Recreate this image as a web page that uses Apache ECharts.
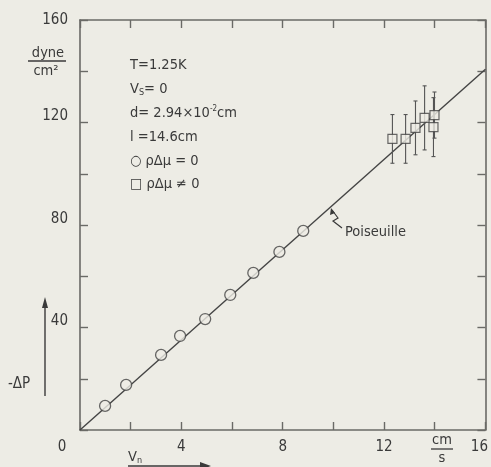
<!DOCTYPE html>
<html>
<head>
<meta charset="utf-8">
<script src="https://cdn.jsdelivr.net/npm/echarts@6/dist/echarts.min.js"></script>
<style>
  html, body { margin: 0; padding: 0; background: #edece5; }
  #chart { width: 491px; height: 467px; }
</style>
</head>
<body>
<div id="chart"></div>
<script>
// Pressure drop vs normal-fluid velocity
const circleV = [0.99, 1.82, 3.2, 3.95, 4.94, 5.93, 6.84, 7.87, 8.81];
const circleP = [9.4, 17.6, 29.3, 36.7, 43.3, 52.7, 61.3, 69.5, 77.7];

const squareV = [12.33, 12.85, 13.24, 13.6, 13.95, 13.99];
const squareP = [113.6, 113.6, 117.9, 121.8, 118.2, 122.9];
const squareErr = [9.5, 9.5, 10.5, 12.5, 11.5, 9];

const poiseuilleV = [0, 16];
const poiseuilleP = [0, 140.8];

const xTickLabels = { 0: '0', 4: '4', 8: '8', 12: '12', 16: '16' };
const yTickLabels = { 40: '40', 80: '80', 120: '120', 160: '160' };

const ink = '#3a3a3a';
const axisInk = '#6a6a66';
const fontFam = '"DejaVu Sans Condensed", "DejaVu Sans", sans-serif';

const chart = echarts.init(document.getElementById('chart'));

const axisCommon = {
  type: 'value',
  axisLine: { show: true, onZero: false, lineStyle: { color: axisInk, width: 1.6 } },
  axisTick: { show: true, inside: true, length: 8, lineStyle: { color: axisInk, width: 1.4 } },
  splitLine: { show: false }
};

chart.setOption({
  animation: false,
  backgroundColor: '#edece5',
  grid: { left: 80, right: 5, top: 20, bottom: 37 },
  xAxis: [
    Object.assign({}, axisCommon, {
      min: 0, max: 16, interval: 2, position: 'bottom',
      axisLabel: {
        show: true, color: ink, fontSize: 15, fontFamily: fontFam, margin: 10,
        formatter: function (v) {
          if (v === 0) return '{zero|0}';
          if (v === 16) return '{last|16}';
          return xTickLabels[v] || '';
        },
        rich: {
          zero: { padding: [0, 36, 0, 0], fontSize: 15, color: ink, fontFamily: fontFam },
          last: { padding: [0, 12, 0, 0], fontSize: 15, color: ink, fontFamily: fontFam }
        }
      }
    }),
    Object.assign({}, axisCommon, {
      min: 0, max: 16, interval: 2, position: 'top', axisLabel: { show: false }
    })
  ],
  yAxis: [
    Object.assign({}, axisCommon, {
      min: 0, max: 160, interval: 20, position: 'left',
      axisLabel: {
        show: true, color: ink, fontSize: 15, fontFamily: fontFam, margin: 12,
        formatter: function (v) {
          if (v === 160) return '{top|160}';
          return yTickLabels[v] ? '{t|' + yTickLabels[v] + '}' : '';
        },
        rich: {
          t: { padding: [0, 0, 12, 0], fontSize: 15, color: ink, fontFamily: fontFam },
          top: { padding: [0, 0, 0, 0], fontSize: 15, color: ink, fontFamily: fontFam }
        }
      }
    }),
    Object.assign({}, axisCommon, {
      min: 0, max: 160, interval: 20, position: 'right', axisLabel: { show: false }
    })
  ],
  series: [
    {
      name: 'Poiseuille',
      type: 'line',
      data: poiseuilleV.map((v, i) => [v, poiseuilleP[i]]),
      showSymbol: false,
      lineStyle: { color: '#444', width: 1.4 },
      z: 2
    },
    {
      name: 'errors',
      type: 'custom',
      data: squareV.map((v, i) => [v, squareP[i], squareErr[i]]),
      renderItem: function (params, api) {
        const x = api.value(0), y = api.value(1), e = api.value(2);
        const top = api.coord([x, y + e]);
        const bot = api.coord([x, y - e]);
        const cap = 2;
        const style = { stroke: '#555', lineWidth: 1.1 };
        return {
          type: 'group',
          children: [
            { type: 'line', shape: { x1: top[0], y1: top[1], x2: bot[0], y2: bot[1] }, style: style },
            { type: 'line', shape: { x1: top[0] - cap, y1: top[1], x2: top[0] + cap, y2: top[1] }, style: style },
            { type: 'line', shape: { x1: bot[0] - cap, y1: bot[1], x2: bot[0] + cap, y2: bot[1] }, style: style }
          ]
        };
      },
      z: 3
    },
    {
      name: 'ρΔμ = 0',
      type: 'scatter',
      data: circleV.map((v, i) => [v, circleP[i]]),
      symbol: 'circle',
      symbolSize: 11,
      itemStyle: { color: '#edece5', borderColor: '#444', borderWidth: 1.3 },
      z: 4
    },
    {
      name: 'ρΔμ ≠ 0',
      type: 'scatter',
      data: squareV.map((v, i) => [v, squareP[i]]),
      symbol: 'rect',
      symbolSize: 9,
      itemStyle: { color: '#edece5', borderColor: '#444', borderWidth: 1.2 },
      z: 5
    }
  ]
});

// Annotations
const txt = (x, y, text, extra) => ({
  type: 'text', x: x, y: y,
  style: Object.assign({ text: text, fill: ink, font: '14.5px ' + fontFam, textVerticalAlign: 'middle' }, extra || {})
});

const lineY = [65, 89, 113, 137, 161, 184];
const graphics = [
  txt(130, lineY[0], 'T=1.25K'),
  {
    type: 'text', x: 130, y: lineY[1],
    style: {
      text: '{v|V}{s|S}{v|= 0}', textVerticalAlign: 'middle',
      rich: {
        v: { fill: ink, font: '14.5px ' + fontFam },
        s: { fill: ink, font: '9px ' + fontFam, padding: [8, 0, 0, 0] }
      }
    }
  },
  {
    type: 'text', x: 130, y: lineY[2],
    style: {
      text: '{v|d= 2.94×10}{s|-2}{v|cm}', textVerticalAlign: 'middle',
      rich: {
        v: { fill: ink, font: '14.5px ' + fontFam },
        s: { fill: ink, font: '8px ' + fontFam, padding: [0, 0, 8, 0] }
      }
    }
  },
  txt(130, lineY[3], 'l =14.6cm'),
  txt(130, lineY[4], '○ ρΔμ = 0'),
  txt(130, lineY[5], '□ ρΔμ ≠ 0'),
  // y unit
  txt(48, 53, 'dyne', { textAlign: 'center' }),
  { type: 'line', shape: { x1: 28, y1: 61, x2: 66, y2: 61 }, style: { stroke: ink, lineWidth: 1.3 } },
  txt(46, 71, 'cm²', { textAlign: 'center' }),
  // y quantity with arrow
  txt(8, 384, '-ΔP', { font: '15px ' + fontFam }),
  { type: 'line', shape: { x1: 45, y1: 396, x2: 45, y2: 304 }, style: { stroke: ink, lineWidth: 1.4 } },
  { type: 'polygon', shape: { points: [[45, 297], [42, 308], [48, 308]] }, style: { fill: ink } },
  // x quantity with arrow
  {
    type: 'text', x: 128, y: 457,
    style: {
      text: '{v|V}{s|n}', textVerticalAlign: 'middle',
      rich: {
        v: { fill: ink, font: '14.5px ' + fontFam },
        s: { fill: ink, font: '9px ' + fontFam, padding: [8, 0, 0, 0] }
      }
    }
  },
  { type: 'line', shape: { x1: 128, y1: 466, x2: 203, y2: 466 }, style: { stroke: ink, lineWidth: 1.4 } },
  { type: 'polygon', shape: { points: [[211, 466], [200, 462], [200, 470]] }, style: { fill: ink } },
  // x unit fraction
  txt(442, 440, 'cm', { textAlign: 'center' }),
  { type: 'line', shape: { x1: 431, y1: 449, x2: 453, y2: 449 }, style: { stroke: ink, lineWidth: 1.3 } },
  txt(442, 458, 's', { textAlign: 'center' }),
  // Poiseuille label with pointer
  txt(345, 232, 'Poiseuille', { font: '14.5px ' + fontFam }),
  { type: 'polyline', shape: { points: [[342, 228], [333, 221], [338, 218], [332, 210]] }, style: { stroke: ink, lineWidth: 1.2, fill: null } },
  { type: 'polygon', shape: { points: [[331, 208], [330, 215], [335, 213]] }, style: { fill: ink } }
];

chart.setOption({ graphic: graphics });
</script>
</body>
</html>
